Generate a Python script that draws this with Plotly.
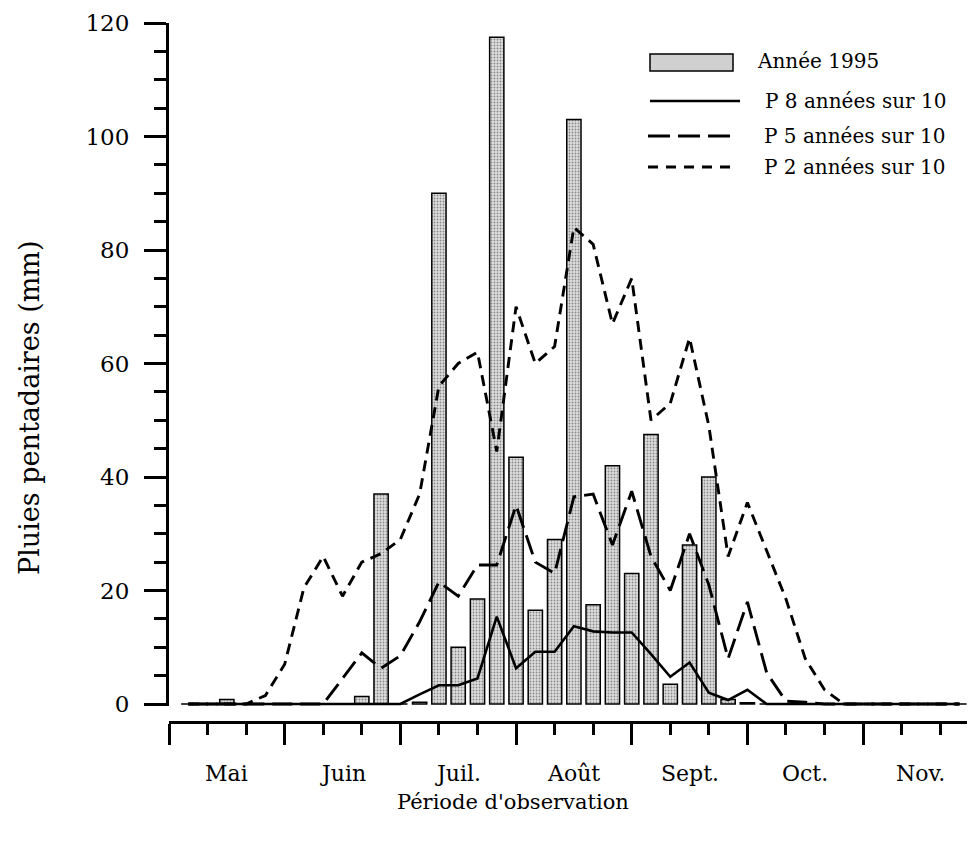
import plotly.graph_objects as go

# ---------------- data (pentads, 1 May -> end of November) ----------------
pentads = list(range(1, 42))

rain_1995 = [0, 0, 0.8, 0, 0, 0, 0, 0, 0, 1.3,
             37, 0, 0.3, 90, 10, 18.5, 117.5, 43.5, 16.5, 29,
             103, 17.5, 42, 23, 47.5, 3.5, 28, 40, 0.8, 0.2,
             0, 0, 0, 0, 0, 0, 0, 0, 0, 0, 0]

p8_sur_10 = [0, 0, 0, 0, 0, 0, 0, 0, 0, 0,
             0, 0, 1.7, 3.3, 3.3, 4.5, 15.4, 6.3, 9.2, 9.2,
             13.7, 12.8, 12.6, 12.6, 8.8, 4.8, 7.3, 2, 0.7, 2.5,
             0, 0, 0, 0, 0, 0, 0, 0, 0, 0, 0]

p5_sur_10 = [0, 0, 0, 0, 0, 0, 0, 0, 4.5, 9,
             6.3, 8.5, 14.5, 21.5, 19, 24.5, 24.5, 35, 25, 23,
             36.5, 37, 28, 37.5, 26, 20, 30, 21, 8, 18,
             5.5, 0.5, 0.3, 0, 0, 0, 0, 0, 0, 0, 0]

p2_sur_10 = [0, 0, 0, 0, 1.5, 7, 20.5, 26, 19, 25,
             26.5, 29, 37, 56, 60, 62, 44.5, 70, 60, 63,
             84, 81, 67, 75, 50, 53, 64.5, 49, 26, 35.5,
             27, 18.5, 8, 2.5, 0, 0, 0, 0, 0, 0, 0]

months = ["Mai", "Juin", "Juil.", "Août", "Sept.", "Oct.", "Nov."]
month_centers = [3, 9, 15, 21, 27, 33, 39]
month_bounds = [0, 6, 12, 18, 24, 30, 36, 42]
y_ticks = [0, 20, 40, 60, 80, 100, 120]

series_names = ["Année 1995", "P 8 années sur 10", "P 5 années sur 10", "P 2 années sur 10"]

# ---------------- layout geometry (page pixels) ----------------
OFF = 8                      # default body margin of the html page
PAGE_W, PAGE_H = 975, 841
PLOT_L, PLOT_R = 169, 975    # page x of plot area edges
PLOT_T, PLOT_B = 23, 722     # page y of plot area edges (x axis at bottom)
Y0_PX = 704                  # page y of the 0 mm level
Y_MIN = -0.4

W, H = PAGE_W - OFF, PAGE_H - OFF
ML, MT = PLOT_L - OFF, PLOT_T - OFF
MR = W - (PLOT_R - OFF)
MB = H - (PLOT_B - OFF)
PW, PH = PLOT_R - PLOT_L, PLOT_B - PLOT_T
units_per_px = 120 / (Y0_PX - PLOT_T)
ybottom_px = Y0_PX - Y_MIN / units_per_px
ydom0 = (PLOT_B - ybottom_px) / PH
PENTAD_PX = 19.28


def px_x(px):
    return (px - PLOT_L) / PW


def px_y(py):
    return (PLOT_B - py) / PH


FONT = "DejaVu Serif"
DASH_LONG = "20px,8px"
DASH_SHORT = "11px,7px"
BAR_FILL = "#d0d0d0"

fig = go.Figure()

fig.add_trace(go.Bar(
    x=pentads, y=rain_1995, width=0.74, name=series_names[0],
    marker=dict(color=BAR_FILL, line=dict(color="black", width=1.5),
                pattern=dict(shape=".", bgcolor="#dedede", fgcolor="#8a8a8a",
                             size=3, solidity=0.3, fillmode="replace")),
))
fig.add_trace(go.Scatter(
    x=pentads, y=p8_sur_10, mode="lines", name=series_names[1],
    line=dict(color="black", width=2.6),
))
fig.add_trace(go.Scatter(
    x=pentads, y=p5_sur_10, mode="lines", name=series_names[2],
    line=dict(color="black", width=2.9, dash=DASH_LONG),
))
fig.add_trace(go.Scatter(
    x=pentads, y=p2_sur_10, mode="lines", name=series_names[3],
    line=dict(color="black", width=2.9, dash=DASH_SHORT),
))

fig.update_layout(
    width=W, height=H,
    margin=dict(l=ML, r=MR, t=MT, b=MB, pad=0),
    paper_bgcolor="white", plot_bgcolor="white",
    showlegend=False,
    font=dict(family=FONT, color="black"),
    xaxis=dict(
        domain=[0, 1], range=[0, PW / PENTAD_PX], anchor="free", position=0,
        showline=True, linecolor="black", linewidth=3,
        ticks="outside", tickvals=month_bounds, ticklen=21, tickwidth=2.5,
        tickcolor="black", showticklabels=False, showgrid=False, zeroline=False,
        minor=dict(ticks="outside", tick0=0, dtick=2, ticklen=11, tickwidth=2.5,
                   tickcolor="black", showgrid=False),
    ),
    yaxis=dict(
        domain=[ydom0, 1], range=[Y_MIN, 120], anchor="x",
        showline=True, linecolor="black", linewidth=3,
        ticks="outside", tickvals=y_ticks, ticklen=22, tickwidth=2.5,
        tickcolor="black", tickfont=dict(size=23, family=FONT),
        ticklabelstandoff=10, showgrid=False, zeroline=False,
        minor=dict(ticks="outside", tick0=0, dtick=5, ticklen=12, tickwidth=2.5,
                   tickcolor="black", showgrid=False),
    ),
)

annotations = []
for m, c in zip(months, month_centers):
    annotations.append(dict(x=c, y=px_y(773), xref="x", yref="paper", text=m,
                            showarrow=False, xanchor="center", yanchor="middle",
                            font=dict(size=22, family=FONT)))
annotations.append(dict(x=px_x(513), y=px_y(802), xref="paper", yref="paper",
                        text="Période d'observation", showarrow=False,
                        xanchor="center", yanchor="middle", font=dict(size=21, family=FONT)))
annotations.append(dict(x=px_x(30), y=px_y(408), xref="paper", yref="paper",
                        text="Pluies pentadaires (mm)", showarrow=False, textangle=-90,
                        xanchor="center", yanchor="middle", font=dict(size=27, family=FONT)))

# legend (drawn manually to match the long sample lines of the original)
leg_rows = [61, 101, 136, 167]
leg_text_x = [755, 763, 762, 762]
for name, ry, tx in zip(series_names, leg_rows, leg_text_x):
    annotations.append(dict(x=px_x(tx), y=px_y(ry), xref="paper", yref="paper",
                            text=name, showarrow=False, xanchor="left", yanchor="middle",
                            font=dict(size=20, family=FONT)))

shapes = [
    dict(type="rect", xref="paper", yref="paper",
         x0=px_x(650), x1=px_x(733), y0=px_y(71), y1=px_y(54),
         fillcolor=BAR_FILL, line=dict(color="black", width=1.5)),
    dict(type="line", xref="paper", yref="paper",
         x0=px_x(650), x1=px_x(740), y0=px_y(101), y1=px_y(101),
         line=dict(color="black", width=2.6)),
    dict(type="line", xref="paper", yref="paper",
         x0=px_x(648), x1=px_x(730), y0=px_y(136), y1=px_y(136),
         line=dict(color="black", width=2.9, dash="22px,8px")),
    dict(type="line", xref="paper", yref="paper",
         x0=px_x(648), x1=px_x(735), y0=px_y(167), y1=px_y(167),
         line=dict(color="black", width=2.9, dash="10px,8px")),
]

fig.update_layout(annotations=annotations, shapes=shapes)

fig.write_html("out.html")
